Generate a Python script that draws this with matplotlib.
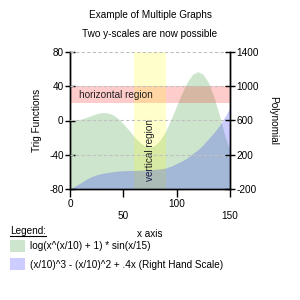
"""Two y-scales area chart with marked horizontal and vertical regions."""

import matplotlib

matplotlib.use("Agg")
import matplotlib.pyplot as plt
from matplotlib.lines import Line2D

plt.rcParams["font.family"] = ["Liberation Sans", "DejaVu Sans"]
plt.rcParams["font.size"] = 7.2
plt.rcParams["axes.unicode_minus"] = False

# values
x_values = [0, 5, 10, 15, 20, 25, 30, 35, 40, 45, 50, 55, 60, 65, 70, 75,
            80, 85, 90, 95, 100, 105, 110, 115, 120, 125, 130, 135, 140, 145, 150]
trig_values = [0, 0.4, 1.5, 3.4, 5.8, 8.0, 9.3, 9.0, 6.8, 2.4, -3.7, -11, -18.6, -25, -29.7, -31,
               -28.5, -22, -11.3, 2.2, 17.3, 32, 45, 53.7, 56.8, 53.5, 43.6, 27.3, 6.6, -17, -35]
poly_values = [-200, -160, -125, -85, -55, -30, -15, -5, 5, 12, 16, 18, 20, 22, 25, 28,
               32, 38, 48, 70, 100, 130, 165, 215, 260, 320, 390, 460, 540, 640, 750]

trig_label = "log(x^(x/10) + 1) * sin(x/15)"
poly_label = "(x/10)^3 - (x/10)^2 + .4x (Right Hand Scale)"

left_ticks = [-80, -40, 0, 40, 80]
right_ticks = [-200, 200, 600, 1000, 1400]
x_ticks = [0, 50, 100, 150]
x_tick_labels = ["0", "\n50", "100", "\n150"]

horizontal_region = (20, 40)
vertical_region = (60, 90)

GREEN = (0.0, 0.5, 0.0, 0.2)
BLUE = (0.0, 0.0, 1.0, 0.2)
RED = (1.0, 0.0, 0.0, 0.2)
YELLOW = (1.0, 1.0, 0.0, 0.2)
GRID = "#c0c0c0"


def main() -> None:
    fig = plt.figure(figsize=(3, 3), dpi=100)
    ax = fig.add_axes([70 / 300, 1 - 189.3 / 300, 160 / 300, 137.6 / 300])
    ax2 = ax.twinx()

    green = ax.fill_between(x_values, trig_values, left_ticks[0], color=GREEN,
                            linewidth=0, label=trig_label)
    ax.axhspan(*horizontal_region, color=RED, linewidth=0)
    ax.axvspan(*vertical_region, color=YELLOW, linewidth=0)
    ax.text(8, sum(horizontal_region) / 2, "horizontal region", va="center", ha="left",
            color="#202020")
    ax.text(sum(vertical_region) / 2, -70, "vertical region", rotation=90,
            ha="center", va="bottom", color="#202020")

    blue = ax2.fill_between(x_values, poly_values, right_ticks[0], color=BLUE,
                            linewidth=0, label=poly_label)

    ax.set_xlim(0, 150)
    ax.set_ylim(-80, 80)
    ax2.set_ylim(-200, 1400)
    ax.set_xticks(x_ticks)
    ax.set_xticklabels(x_tick_labels)
    ax.set_yticks(left_ticks)
    ax2.set_yticks(right_ticks)

    # grid drawn on the twin axes so it lies over the fills
    ax2.set_axisbelow(False)
    ax2.grid(True, color=GRID, linestyle=(0, (3, 2)), linewidth=0.8)
    ax2.xaxis.grid(True, color=GRID, linestyle=(0, (3, 2)), linewidth=0.8)

    for a in (ax, ax2):
        a.spines["top"].set_visible(False)
        for side in ("left", "right", "bottom"):
            a.spines[side].set_linewidth(1.0)
    ax.tick_params(axis="y", direction="inout", length=7, width=1, pad=1)
    ax2.tick_params(axis="y", direction="inout", length=7, width=1, pad=1)
    ax.tick_params(axis="x", direction="out", length=6, width=1, pad=1)

    fig.text(0.5, 1 - 15 / 300, "Example of Multiple Graphs", ha="center", va="center")
    fig.text(0.5, 1 - 34 / 300, "Two y-scales are now possible", ha="center", va="center")
    fig.text(37 / 300, 1 - 120.5 / 300, "Trig Functions", rotation=90, ha="center", va="center")
    fig.text(273 / 300, 1 - 120.5 / 300, "Polynomial", rotation=270, ha="center", va="center")
    fig.text(150 / 300, 1 - 234 / 300, "x axis", ha="center", va="center")

    title = fig.text(10 / 300, 1 - 231.5 / 300, "Legend:", ha="left", va="center")
    fig.canvas.draw()
    box = title.get_window_extent().transformed(fig.transFigure.inverted())
    fig.add_artist(Line2D([box.x0, box.x1], [box.y0 + 0.002, box.y0 + 0.002],
                          transform=fig.transFigure, color="black", linewidth=0.8))

    fig.legend(handles=[green, blue], loc="upper left", bbox_to_anchor=(10 / 300, 1 - 240 / 300),
               frameon=False, borderpad=0, borderaxespad=0, handlelength=1.5,
               handleheight=1.5, handletextpad=0.5, labelspacing=0.6)

    fig.savefig("out.png", dpi=100)
    plt.close(fig)


if __name__ == "__main__":
    main()
